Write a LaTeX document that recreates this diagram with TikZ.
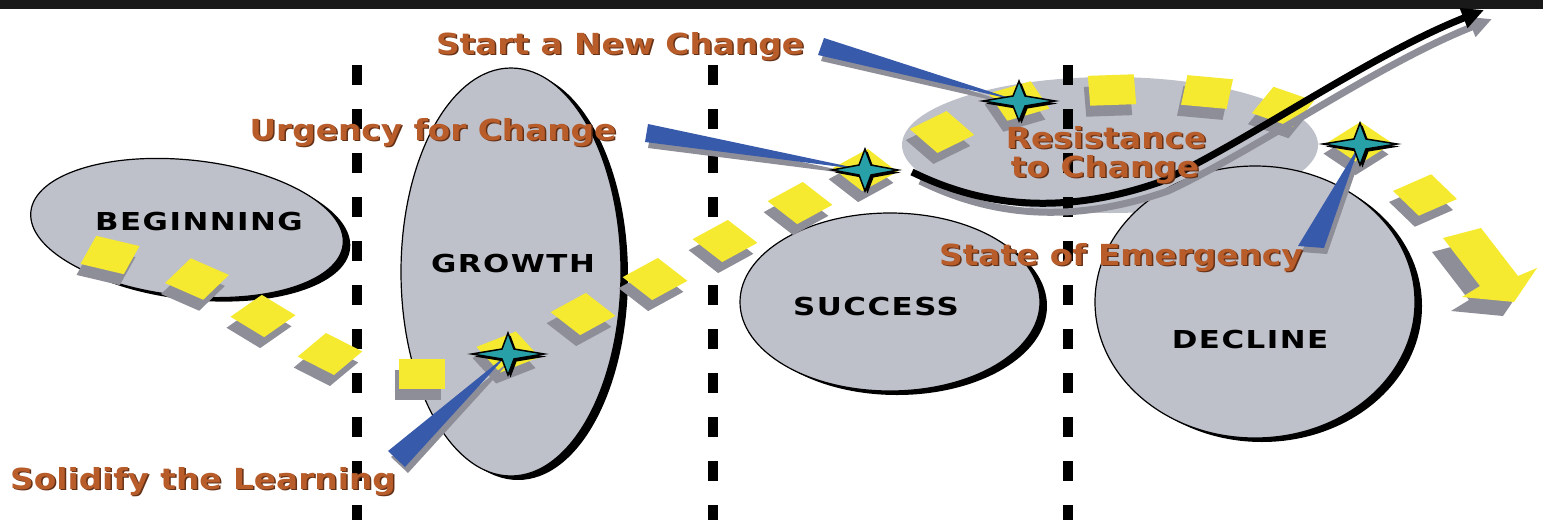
\documentclass[tikz,border=0pt]{standalone}
\usepackage{fontspec}
\setmainfont{DejaVu Sans}
\newfontfamily\callfont{DejaVu Sans}[FakeStretch=1.13]
\newfontfamily\stagefont{DejaVu Sans}[FakeStretch=1.25, LetterSpace=6]
\usetikzlibrary{arrows.meta}

\definecolor{stagegray}{RGB}{190,192,202}
\definecolor{tileyellow}{RGB}{245,234,48}
\definecolor{dropgray}{RGB}{142,142,152}
\definecolor{starteal}{RGB}{40,160,168}
\definecolor{pointblue}{RGB}{56,90,170}
\definecolor{callorange}{RGB}{184,92,42}
\definecolor{callshade}{RGB}{100,48,22}

\begin{document}
\begin{tikzpicture}[
        x=1pt, y=-1pt,
        stage/.style={fill=stagegray, draw=black, line width=1.2pt},
        divider/.style={line width=10pt, dash pattern=on 20pt off 24pt},
        tile/.style={fill=tileyellow},
        sparkle/.style={fill=starteal, draw=black, line width=1.5pt, line join=miter},
        dip/.style={line width=7pt, -{Triangle[length=22pt, width=20pt]}},
        callout/.style={font=\callfont\bfseries\fontsize{29}{32}\selectfont, anchor=base, inner sep=0pt},
        stagelbl/.style={font=\stagefont\bfseries\fontsize{24.7}{28}\selectfont, anchor=base, inner sep=0pt},
    ]
    \useasboundingbox (0,0) rectangle (1543,520);
    \fill[black!90] (0,0) rectangle (1543,9);

    % the plateau behind the dip
    \fill[stagegray] (1110,145) ellipse [x radius=208, y radius=68];

    % the four stages: x/y/x radius/y radius/tilt
    \foreach \x/\y/\rx/\ry/\r in {187/228/157/68/-6, 511/272/110/204/0, 890/302/150/89/0, 1255/302/160/136/0}{
        \fill[black] (\x+7,\y+4) ellipse [x radius=\rx, y radius=\ry, rotate=\r];
        \filldraw[stage] (\x,\y) ellipse [x radius=\rx, y radius=\ry, rotate=\r];
    }

    % borders between stages
    \foreach \x in {357,713,1068}
        \draw[divider] (\x,65) -- (\x,520);

    % the path of tiles: x/y/turn
    \foreach \x/\y/\r in {110/255/-20, 197/279/-34, 263/316/-43, 330/354/-38, 422/374/0, 508/352/31,
            583/314/40, 655/279/40, 725/241/40, 800/203/40, 865/170/40, 942/132/37, 1019/101/24,
            1112/90/3, 1207/92/-8, 1283/107/-28, 1360/143/-46, 1425/195/-56}{
        \fill[dropgray, shift={(\x-4,\y+11)}, yscale=.65, rotate=\r] (-23,-23) -- (23,-23) -- (23,23) -- (-23,23) -- cycle;
        \fill[tile, shift={(\x,\y)}, yscale=.65, rotate=\r] (-23,-23) -- (23,-23) -- (23,23) -- (-23,23) -- cycle;
    }
    % last tile is an arrow
    \fill[dropgray, shift={(-11,14)}] (1443,238) -- (1481,228) -- (1518,276) -- (1537,268) -- (1514,302) -- (1462,297) -- (1480,286) -- cycle;
    \fill[tile] (1443,238) -- (1481,228) -- (1518,276) -- (1537,268) -- (1514,302) -- (1462,297) -- (1480,286) -- cycle;

    % the dip and the climb out of it
    \coordinate (dip-start) at (912,172);
    \coordinate (dip-end) at (1484,10);
    \draw[dip, draw=dropgray] ([shift={(8,9)}]dip-start) .. controls (993,217) and (1073,224) .. (1168,191)
        .. controls (1258,149) and (1378,64) .. ([shift={(8,9)}]dip-end);
    \draw[dip] (dip-start) .. controls (985,208) and (1065,215) .. (1160,182)
        .. controls (1250,140) and (1370,55) .. (dip-end);

    % stars on the path
    \foreach \n/\x/\y in {1/508/354, 2/865/170, 3/1019/101, 4/1360/144}
        \coordinate (star\n) at (\x,\y);

    % pointers from the labels: wide end a, wide end b, star
    \coordinate (start-a) at (824,38);       \coordinate (start-b) at (818,55);
    \coordinate (urgency-a) at (648,124);    \coordinate (urgency-b) at (645,142);
    \coordinate (solidify-a) at (388,451);   \coordinate (solidify-b) at (405,467);
    \coordinate (emergency-a) at (1298,246); \coordinate (emergency-b) at (1324,248);
    \foreach \a/\b/\s in {start-a/start-b/star3, urgency-a/urgency-b/star2, solidify-a/solidify-b/star1, emergency-a/emergency-b/star4}{
        \fill[dropgray] ([shift={(3,6)}]\a) -- ([shift={(3,6)}]\b) -- ([shift={(3,6)}]\s) -- cycle;
        \fill[pointblue] (\a) -- (\b) -- (\s) -- cycle;
    }

    \foreach \n/\h/\v in {1/36/21, 2/33/21, 3/36/20, 4/37/21}{
        \fill[black] ([shift={(2.5,2.5)}]star\n) +(\h,0) -- +(6,5) -- +(0,\v) -- +(-6,5) -- +(-\h,0) -- +(-6,-5) -- +(0,-\v) -- +(6,-5) -- cycle;
        \filldraw[sparkle] (star\n) +(\h,0) -- +(6,5) -- +(0,\v) -- +(-6,5) -- +(-\h,0) -- +(-6,-5) -- +(0,-\v) -- +(6,-5) -- cycle;
    }

    % stage names
    \node[stagelbl] (beginning) at (199,230) {BEGINNING};
    \node[stagelbl] (growth) at (513,272) {GROWTH};
    \node[stagelbl] (success) at (876,315) {SUCCESS};
    \node[stagelbl] (decline) at (1250,348) {DECLINE};

    % orange labels with a dark edge
    \foreach \name/\x/\y/\txt in {start/620/54/Start a New Change, urgency/433/140/Urgency for Change,
            solidify/203/489/Solidify the Learning, resist/1106/148/Resistance, resist-b/1105/177/to Change,
            emergency/1121/265/State of Emergency}{
        \node[callout, text=callshade] at (\x+1.5,\y+1.5) {\txt};
        \node[callout, text=callorange] (\name) at (\x,\y) {\txt};
    }
\end{tikzpicture}
\end{document}
